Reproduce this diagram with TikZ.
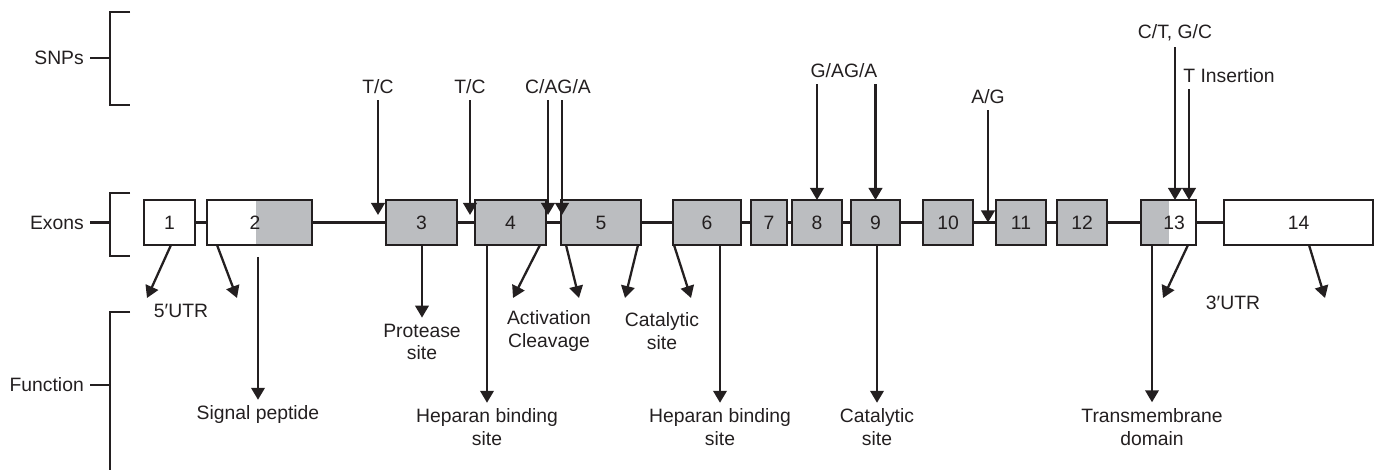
\documentclass[tikz,border=0pt]{standalone}
\usepackage{fontspec}
\setmainfont{Liberation Sans}
\usepackage{tikz}
\usetikzlibrary{arrows.meta,calc,positioning}
\definecolor{ExonGray}{HTML}{BBBDC0}
\definecolor{ExonInk}{HTML}{231F20}
\tikzset{
  >={Triangle[length=2.4mm,width=2.7mm]},
  rule/.style={line width=1.3pt,draw=ExonInk},
  intron/.style={line width=1.3pt,draw=ExonInk},
  snp/.style={->,line width=1.3pt,draw=ExonInk},
  fn/.style={->,line width=1.3pt,draw=ExonInk},
  exon/.style={draw=ExonInk,line width=1.3pt,fill=ExonGray,minimum height=9mm,
    inner sep=0pt,outer sep=0pt,text=ExonInk,font=\fontsize{11}{13}\selectfont},
  utrexon/.style={exon,fill=white},
  graytail/.style={path picture={\fill[ExonGray] ([xshift=#1]path picture bounding box.north west)
    rectangle (path picture bounding box.south east);}},
  grayhead/.style={path picture={\fill[ExonGray] (path picture bounding box.north west)
    rectangle ([xshift=#1]path picture bounding box.south west);}},
  lbl/.style={align=center,text=ExonInk,font=\fontsize{11}{13}\selectfont},
  side/.style={lbl,anchor=east}
}

\begin{document}
\begin{tikzpicture}[x=0.2mm,y=-0.2mm]
  \useasboundingbox (0,0) rectangle (1378,470);
  \foreach \n/\cx/\w in {3/421.5/14.2,4/510.5/14.2,5/601/16,6/707/13.6,7/769/7.2,
      8/817/10,9/875.5/9.8,10/948/10,11/1021/10,12/1082/10}
    \node[exon,minimum width=\w mm] (e\n) at (\cx,222.5) {\n};
  \node[utrexon,minimum width=10.2mm] (e1) at (169.5,222.5) {1};
  \node[utrexon,minimum width=29.8mm] (e14) at (1298.5,222.5) {14};
  \node[utrexon,graytail=9.8mm,minimum width=21mm] (e2) at (259.5,222.5) {};
  \node[utrexon,grayhead=5.6mm,minimum width=11mm] (e13) at (1168.5,222.5) {};
  \node[lbl] (n2) at (255,222.5) {2};
  \node[lbl] (n13) at (1174,222.5) {13};
  \foreach \a/\b in {1/2,2/3,3/4,4/5,5/6,6/7,7/8,8/9,9/10,10/11,11/12,12/13,13/14}
    \draw[intron] (e\a.east) -- (e\b.west);

  \node[side] (snps) at (90,58) {SNPs};
  \node[side] (exons) at (90,222.5) {Exons};
  \node[side] (func) at (90,385) {Function};
  \coordinate (bs) at (110,58);
  \coordinate (be) at (110,222.5);
  \coordinate (bf) at (110,385);
  \draw[rule] (130,12) -| (110,105) -- (130,105);
  \draw[rule] (130,193) -| (110,256) -- (130,256);
  \draw[rule] (130,312) -| (110,475);
  \draw[rule] (snps.east) -- (bs);
  \draw[rule] (exons.east) -- (be);
  \draw[rule] (func.east) -- (bf);

  \node[lbl] (tc1) at (378,87) {T/C};
  \node[lbl] (tc2) at (470,87) {T/C};
  \node[lbl] (caga) at (558,87) {C/AG/A};
  \node[lbl] (gaga) at (844,71) {G/AG/A};
  \node[lbl] (ag) at (988,97) {A/G};
  \node[lbl] (ctgc) at (1175,33) {C/T, G/C};
  \node[lbl] (tins) at (1229,76) {T Insertion};
  \draw[snp,shorten >=1.5mm] (tc1.south) -- (tc1.south |- e3.west);
  \draw[snp,shorten >=1.5mm] (tc2.south) -- (tc2.south |- e4.west);
  \draw[snp,shorten >=1.5mm] ([xshift=-2mm]caga.south) -- ([xshift=-2mm]caga.south |- e5.west);
  \draw[snp,shorten >=1.5mm] ([xshift=0.8mm]caga.south) -- ([xshift=0.8mm]caga.south |- e5.west);
  \draw[snp] (e8.north |- gaga.south) -- (e8.north);
  \draw[snp] (e9.north |- gaga.south) -- (e9.north);
  \draw[snp] (ag.south) -- (ag.south |- e11.west);
  \draw[snp] (ctgc.south) -- (ctgc.south |- e13.north);
  \draw[snp] ([xshift=4.1mm]e13.north |- tins.south) -- ([xshift=4.1mm]e13.north);

  \node[lbl] (utr5) at (181,311) {5′UTR};
  \node[lbl] (sig) at (258,415) {Signal peptide};
  \node[lbl] (prot) at (422,342) {Protease\\site};
  \node[lbl] (hep1) at (487,427.5) {Heparan binding\\site};
  \node[lbl] (act) at (549,331) {Activation\\Cleavage};
  \node[lbl] (cat1) at (662,331) {Catalytic\\site};
  \node[lbl] (hep2) at (720,427.5) {Heparan binding\\site};
  \node[lbl] (cat2) at (877,427.5) {Catalytic\\site};
  \node[lbl] (tm) at (1152,427) {Transmembrane\\domain};
  \node[lbl] (utr3) at (1233,303) {3′UTR};
  \coordinate (u1) at (147,298);
  \coordinate (u2) at (237,298);
  \coordinate (a1) at (513,298);
  \coordinate (a2) at (579,298);
  \coordinate (c1) at (625,298);
  \coordinate (c2) at (691,298);
  \coordinate (t1) at (1163,298);
  \coordinate (t2) at (1325,298);
  \draw[fn] ([xshift=0.3mm]e1.south) -- (u1);
  \draw[fn] ([xshift=2mm]e2.south west) -- (u2);
  \draw[fn] ([yshift=-2.4mm]sig.north |- e2.south) -- (sig.north);
  \draw[fn] (prot.north |- e3.south) -- (prot.north);
  \draw[fn] (hep1.north |- e4.south) -- (hep1.north);
  \draw[fn] ([xshift=-1.2mm]e4.south east) -- (a1);
  \draw[fn] ([xshift=1mm]e5.south west) -- (a2);
  \draw[fn] ([xshift=-0.6mm]e5.south east) -- (c1);
  \draw[fn] ([xshift=0.2mm]e6.south west) -- (c2);
  \draw[fn] (hep2.north |- e6.south) -- (hep2.north);
  \draw[fn] (cat2.north |- e9.south) -- (cat2.north);
  \draw[fn] (tm.north |- e13.south) -- (tm.north);
  \draw[fn] ([xshift=-1.6mm]e13.south east) -- (t1);
  \draw[fn] ([xshift=2.1mm]e14.south) -- (t2);
\end{tikzpicture}
\end{document}
